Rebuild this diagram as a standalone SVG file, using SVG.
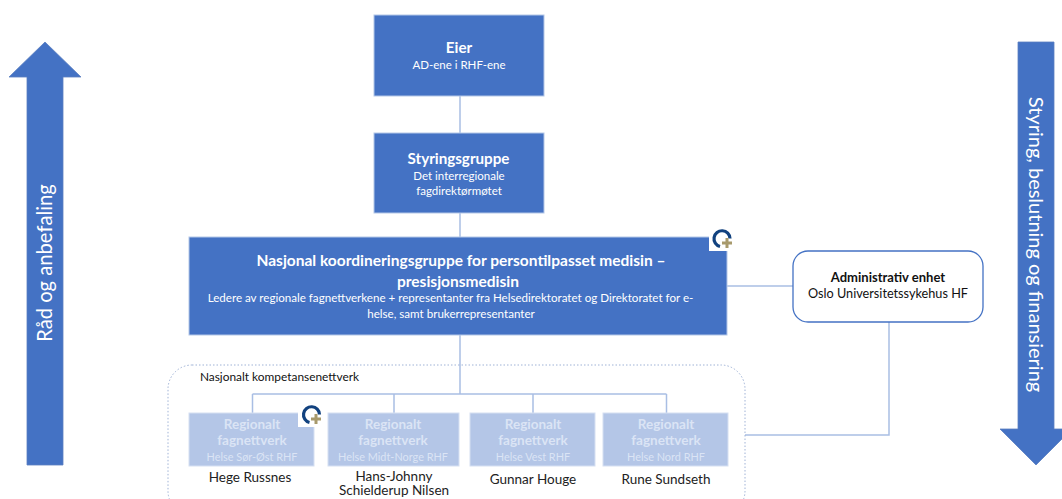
<svg xmlns="http://www.w3.org/2000/svg" width="1062" height="499" viewBox="0 0 1062 499">
<style>
text{font-family:Lato,"Noto Sans",sans-serif;text-anchor:middle}
.w{fill:#fff}.b{font-weight:700}
.dk{fill:#4472c4;stroke:#b4c7e7;stroke-width:1}
.lt{fill:#b4c6e7;stroke:#d6e0f2;stroke-width:1}
.c{fill:none;stroke:#a9bee4;stroke-width:1.5}
.l{fill:#dbe4f5;font-size:13.5px;font-weight:700}
.s{fill:#dbe4f5;font-size:10.9px}
.n{font-size:13.5px;fill:#222}
.ar{fill:#4472c4;stroke:#5b7fc0;stroke-width:.8}
.ring{fill:none;stroke:#12427f;stroke-width:3.2}
.plus{stroke:#a89a6c;stroke-width:3;fill:none}
</style>
<rect width="1062" height="499" fill="#fff"/>
<g id="connectors">
<path class="c" d="M460 96V133M460 213V237M460 335V394M252.500 394V413M394 394V413M533 394V413M666.500 394V413M252.500 394H666.500M727 286H793M745 435H889V322"/>
</g>
<g id="arrow-left"><path class="ar" d="M45 42L81 77H63V465H27V77H9Z"/><text transform="translate(52 263) rotate(-90)" font-size="20.200" class="w">Råd og anbefaling</text></g>
<g id="arrow-right"><path class="ar" d="M1018 42H1054V429H1072L1036 465L1000 429H1018Z"/><text transform="translate(1029 244.500) rotate(90)" font-size="20" class="w">Styring, beslutning og finansiering</text></g>
<g id="eier"><rect class="dk" x="374" y="15" width="170" height="81"/><text x="459" y="53" font-size="15.200" class="w b">Eier</text><text x="459" y="69" font-size="11.500" class="w">AD-ene i RHF-ene</text></g>
<g id="styringsgruppe"><rect class="dk" x="374" y="133" width="170" height="80"/><text x="458.500" y="164" font-size="15.200" class="w b">Styringsgruppe</text><text x="459" y="180" font-size="11.500" class="w">Det interregionale</text><text x="459" y="195" font-size="11.500" class="w">fagdirektørmøtet</text></g>
<g id="koordinering"><rect class="dk" x="189" y="237" width="538" height="98"/><text x="461" y="266" font-size="15.500" class="w b">Nasjonal koordineringsgruppe for persontilpasset medisin –</text><text x="458" y="287" font-size="15.500" class="w b">presisjonsmedisin</text><text x="450.500" y="302" font-size="11.600" class="w">Ledere av regionale fagnettverkene + representanter fra Helsedirektoratet og Direktoratet for e-</text><text x="451" y="318" font-size="11.600" class="w">helse, samt brukerrepresentanter</text>
<rect x="709" y="229" width="19" height="22" fill="#fff"/><path class="ring" d="M730 238.500A8 8 0 1 0 720 246.500"/><path class="plus" d="M727 238v10M722 243h10"/></g>
<g id="administrativ"><rect x="793" y="251" width="190" height="71" rx="15" fill="#fff" stroke="#4472c4" stroke-width="1.300"/><text x="888" y="282" font-size="13" font-weight="700" fill="#111">Administrativ enhet</text><text x="888" y="298" font-size="12.700" fill="#111">Oslo Universitetssykehus HF</text></g>
<g id="nettverk"><rect x="168" y="365" width="577" height="150" rx="24" fill="none" stroke="#9fb2d6" stroke-dasharray="1.500 2"/><text x="279.500" y="381" font-size="11.900" fill="#111">Nasjonalt kompetansenettverk</text></g>
<g id="rf1"><rect class="lt" x="189" y="413" width="125" height="53"/><text class="l" x="252" y="429">Regionalt</text><text class="l" x="252" y="445">fagnettverk</text><text class="s" x="252" y="461">Helse Sør-Øst RHF</text><rect x="298" y="403" width="17" height="24" fill="#fff"/><path class="ring" d="M319.500 414.500A8 8 0 1 0 309.500 422.500"/><path class="plus" d="M316 414v10M311 419h10"/><text class="n" x="250" y="482">Hege Russnes</text></g>
<g id="rf2"><rect class="lt" x="328" y="413" width="131" height="53"/><text class="l" x="393" y="429">Regionalt</text><text class="l" x="393" y="445">fagnettverk</text><text class="s" x="393" y="461">Helse Midt-Norge RHF</text><text class="n" x="394" y="481">Hans-Johnny</text><text class="n" x="394" y="495">Schielderup Nilsen</text></g>
<g id="rf3"><rect class="lt" x="470" y="413" width="125" height="53"/><text class="l" x="533" y="429">Regionalt</text><text class="l" x="533" y="445">fagnettverk</text><text class="s" x="533" y="461">Helse Vest RHF</text><text class="n" x="533" y="484">Gunnar Houge</text></g>
<g id="rf4"><rect class="lt" x="603" y="413" width="125" height="53"/><text class="l" x="666" y="429">Regionalt</text><text class="l" x="666" y="445">fagnettverk</text><text class="s" x="666" y="461">Helse Nord RHF</text><text class="n" x="666" y="484">Rune Sundseth</text></g>
</svg>
